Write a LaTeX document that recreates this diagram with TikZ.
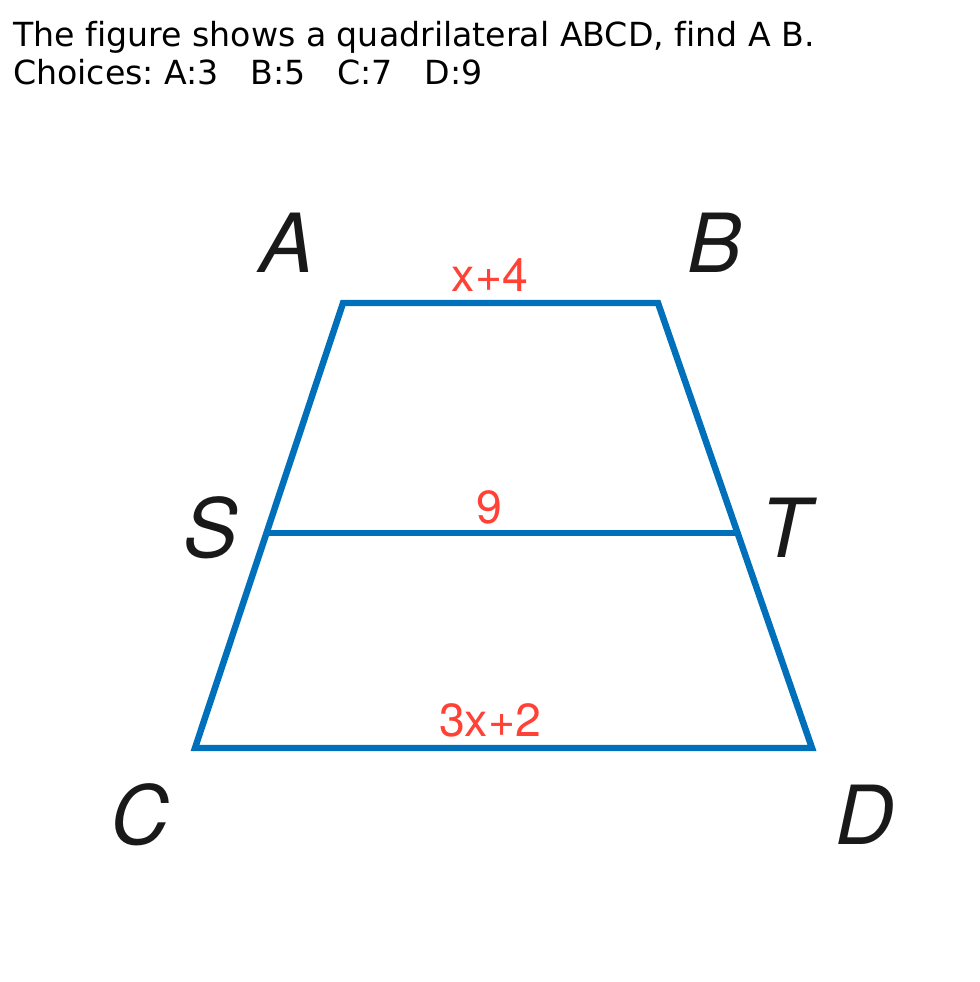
\documentclass[tikz,border=0pt]{standalone}
\usepackage{fontspec}
\setmainfont{DejaVu Sans}[Ligatures=NoCommon]
\newfontfamily\heros{TeX Gyre Heros}
\usepackage{xcolor}
\usetikzlibrary{calc}
\definecolor{edgeblue}{HTML}{0070BA}
\definecolor{lenred}{HTML}{FF4136}
\frenchspacing

\begin{document}
\begin{tikzpicture}[x=0.025cm,y=-0.025cm,line width=4.6pt,
  vlabel/.style={font=\heros\itshape\fontsize{58}{60}\selectfont,text=black!90},
  len/.style={font=\heros\fontsize{33}{36}\selectfont,text=lenred}]
\useasboundingbox (0,0) rectangle (980,982);
\node[anchor=north west,align=left,inner sep=0pt,font=\fontsize{23.6}{27.2}\selectfont]
  (title) at (10,18) {The figure shows a quadrilateral ABCD, find A B.\\Choices: A:3\ \ \ B:5\ \ \ C:7\ \ \ D:9};
%
\coordinate (A) at (343,303);
\coordinate (B) at (658,303);
\coordinate (C) at (195,748);
\coordinate (D) at (812,748);
\coordinate (S) at ($(A)!0.517!(C)$);
\coordinate (T) at ($(B)!0.517!(D)$);
\draw[edgeblue,line join=miter] (A) -- (B) -- (D) -- (C) -- cycle;
\draw[edgeblue] (S) -- (T);
%
\node[vlabel] (lA) at (287,243) {A};
\node[vlabel] (lB) at (715,243) {B};
\node[vlabel] (lS) at (211,528) {S};
\node[vlabel] (lT) at (785,528) {T};
\node[vlabel] (lC) at (140,815) {C};
\node[vlabel] (lD) at (865,815) {D};
%
\node[len] (ab) at (490,275) {x+4};
\node[len] (st) at (489,507) {9};
\node[len] (cd) at (490,720) {3x+2};
\end{tikzpicture}
\end{document}
